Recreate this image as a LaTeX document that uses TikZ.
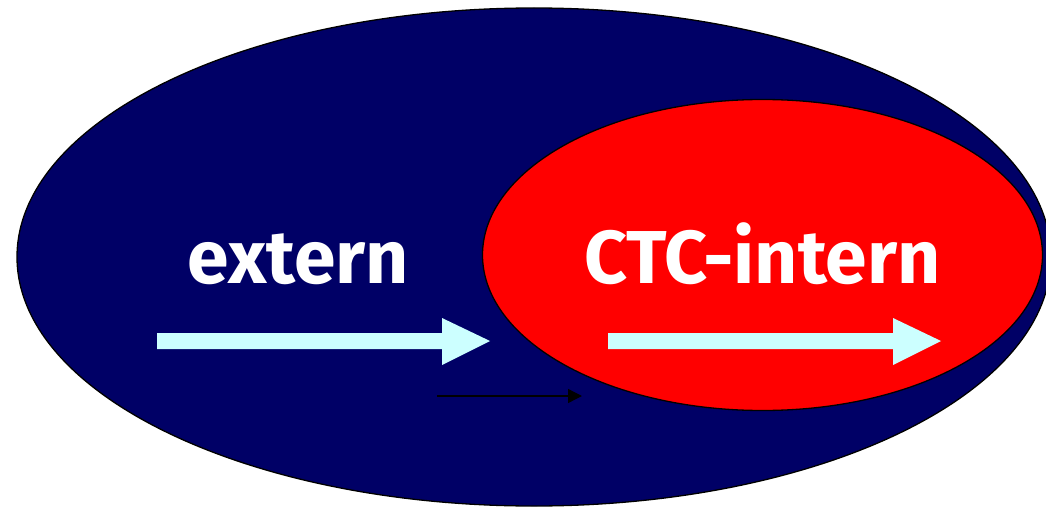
\documentclass[tikz,border=0pt]{standalone}
\usepackage{fontspec}
\setmainfont{Fira Sans}
\usetikzlibrary{arrows.meta,shapes.geometric}
\definecolor{navy}{RGB}{0,0,102}
\definecolor{pale}{RGB}{204,255,255}
\tikzset{
  px/.style={x=1pt,y=-1pt},
  lbl/.style={text=white,font=\bfseries\fontsize{75}{80}\selectfont,inner sep=0pt,anchor=base}
}
\begin{document}
\begin{tikzpicture}[px]
\useasboundingbox (0,0) rectangle (1046,508);
\begin{scope}
\clip (0,0) rectangle (1046,508);
\node[draw=black,line width=1.3pt,fill=navy,ellipse,minimum width=1034pt,minimum height=498pt,inner sep=0pt] (outer) at (534,257) {};
\end{scope}
\node[draw=black,line width=1.3pt,fill=red,ellipse,minimum width=560pt,minimum height=311pt,inner sep=0pt] (inner) at (762.5,255) {};
\node[lbl] (ext) at (298.5,283) {extern};
\node[lbl] (ctc) at (762.5,283) {CTC-intern};
\fill[pale] (157,333) -- (442,333) -- (442,318) -- (490,341) -- (442,365) -- (442,349) -- (157,349) -- cycle;
\fill[pale] (608,333) -- (893,333) -- (893,318) -- (941,341) -- (893,365) -- (893,349) -- (608,349) -- cycle;
\coordinate (s) at (437,396);
\coordinate (e) at (582,396);
\draw[line width=1.3pt,-{Triangle[length=14pt,width=14pt]}] (s) -- (e);
\end{tikzpicture}
\end{document}
